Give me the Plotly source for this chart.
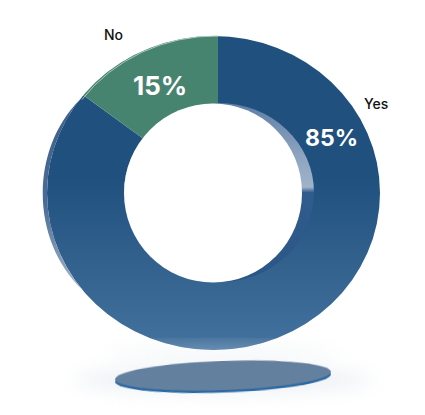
"""Yes/No donut with a moulded 3D look."""
from urllib.parse import quote

from plotly import graph_objects as go

WIDTH = 425
HEIGHT = 415

labels = ["Yes", "No"]
values = [85, 15]
slice_colors = ["#20507e", "#47846f"]

# Pie centre and radius in pixels. The pie is drawn oversized, the overlay trims it to the oval face.
CX, CY, R = 218, 193, 172

# Label anchors in pixels, per category.
name_pos = {"Yes": (376, 104), "No": (113, 35)}
pct_pos = {"Yes": (331, 138), "No": (160, 85)}
pct_size = {"Yes": 23, "No": 26}

OVERLAY = f"""<svg xmlns="http://www.w3.org/2000/svg" width="{WIDTH}" height="{HEIGHT}" viewBox="0 0 {WIDTH} {HEIGHT}">
<defs>
<linearGradient id="sheen" x1="0" y1="0" x2="0" y2="1">
  <stop offset="0.45" stop-color="#8fb8e0" stop-opacity="0"/>
  <stop offset="1" stop-color="#8fb8e0" stop-opacity="0.33"/>
</linearGradient>
<linearGradient id="wall" x1="0" y1="0" x2="0" y2="1">
  <stop offset="0" stop-color="#5f7fa6"/>
  <stop offset="0.3" stop-color="#8ea4c0"/>
  <stop offset="0.47" stop-color="#9fb2c9"/>
  <stop offset="0.5" stop-color="#2f5c8c"/>
  <stop offset="1" stop-color="#2b5788"/>
</linearGradient>
<linearGradient id="side" x1="0" y1="0" x2="0" y2="1">
  <stop offset="0" stop-color="#3c5f8c"/>
  <stop offset="0.55" stop-color="#4a6c96"/>
  <stop offset="1" stop-color="#a6b6c8"/>
</linearGradient>
<filter id="blur" x="-30%" y="-100%" width="160%" height="300%"><feGaussianBlur stdDeviation="9"/></filter>
<filter id="soft" x="-10%" y="-50%" width="120%" height="200%"><feGaussianBlur stdDeviation="0.6"/></filter>
</defs>
<path fill="#fff" fill-rule="evenodd" d="M0 0H{WIDTH}V{HEIGHT}H0Z M47 193a166.5 157 0 1 0 333 0a166.5 157 0 1 0 -333 0Z"/>
<path fill="url(#sheen)" fill-rule="evenodd" d="M47 193a166.5 157 0 1 0 333 0a166.5 157 0 1 0 -333 0Z M124 192.5a95 89.5 0 1 0 190 0a95 89.5 0 1 0 -190 0Z"/>
<path fill="url(#side)" filter="url(#soft)" d="M79.5 100A166.5 157 0 0 0 82.6 290C30 240 30 150 79.5 100Z"/>
<path fill="none" stroke="#a9c9bb" stroke-width="1" d="M82 99.5A166.5 157 0 0 1 218 36"/>
<ellipse cx="219" cy="192.5" rx="95" ry="89.5" fill="url(#wall)"/>
<ellipse cx="213" cy="193" rx="89" ry="89.5" fill="#fff"/>
<ellipse cx="223" cy="380" rx="150" ry="14" fill="#e3e9ee" opacity="0.6" filter="url(#blur)"/>
<ellipse cx="223" cy="353" rx="120" ry="5" fill="#e3e9ee" opacity="0.5" filter="url(#blur)"/>
<ellipse cx="223" cy="378" rx="108" ry="14.5" fill="#2f69a3" transform="rotate(-2 223 378)" filter="url(#soft)"/>
<ellipse cx="223" cy="375.5" rx="108" ry="14.5" fill="#64809f" transform="rotate(-2 223 375.5)" filter="url(#soft)"/>
</svg>"""

fig = go.Figure(go.Pie(labels=labels, values=values, sort=False, direction="clockwise", rotation=0, hole=0.4,
                       marker={"colors": slice_colors, "line": {"width": 0}}, textinfo="none", showlegend=False,
                       domain={"x": [(CX - R) / WIDTH, (CX + R) / WIDTH],
                               "y": [1 - (CY + R) / HEIGHT, 1 - (CY - R) / HEIGHT]}))

fig.add_layout_image(source="data:image/svg+xml," + quote(OVERLAY), xref="paper", yref="paper", x=0, y=1,
                     sizex=1, sizey=1, xanchor="left", yanchor="top", sizing="stretch", layer="above")

for label, value in zip(labels, values):
    x, y = name_pos[label]
    fig.add_annotation(text=label, x=x / WIDTH, y=1 - y / HEIGHT, xref="paper", yref="paper", showarrow=False,
                       xanchor="center", yanchor="middle",
                       font={"family": "Inter", "size": 14, "color": "#111111", "weight": 500})
    x, y = pct_pos[label]
    fig.add_annotation(text=f"{value}%", x=x / WIDTH, y=1 - y / HEIGHT, xref="paper", yref="paper", showarrow=False,
                       xanchor="center", yanchor="middle",
                       font={"family": "Inter", "size": pct_size[label], "color": "#ffffff", "weight": 700})

fig.update_layout(width=WIDTH, height=HEIGHT, margin={"l": 0, "r": 0, "t": 0, "b": 0}, paper_bgcolor="#ffffff")
# The default page margin would push the whole figure 8px down and right.
fig.write_html("out.html", config={"displayModeBar": False}, post_script="document.body.style.margin = '0';")
